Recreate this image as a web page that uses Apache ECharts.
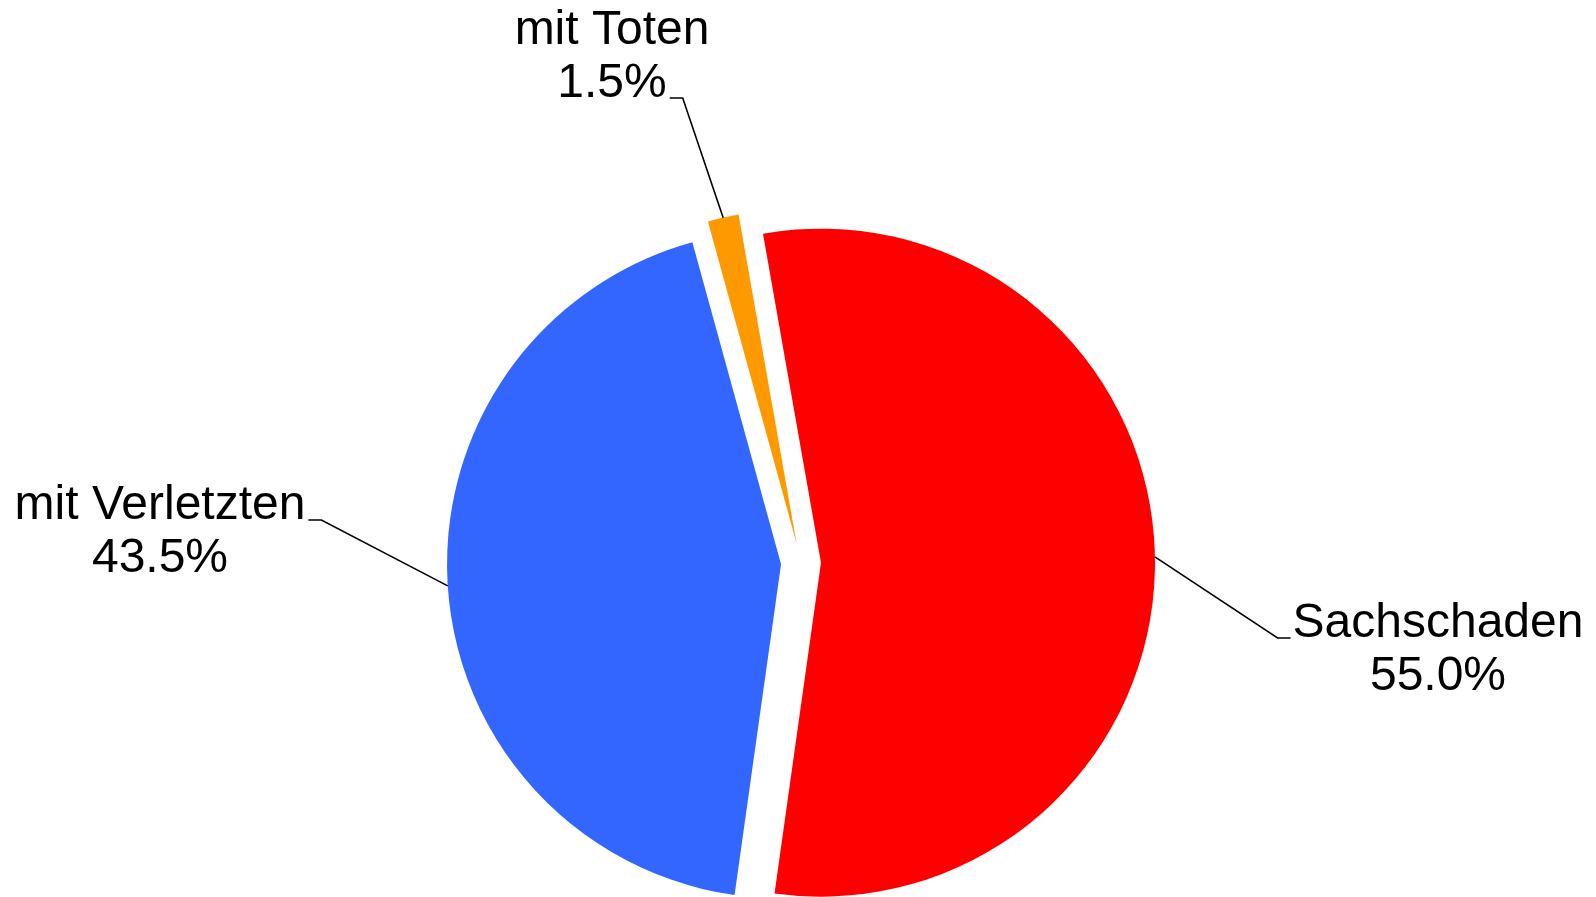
<!DOCTYPE html>
<html><head><meta charset="utf-8">
<script src="https://cdn.jsdelivr.net/npm/echarts@6/dist/echarts.min.js"></script>
<style>html,body{margin:0;padding:0;background:#fff}#main{width:1596px;height:897px}</style>
</head><body><div id="main"></div>
<script>
const categories = ['Sachschaden', 'mit Verletzten', 'mit Toten'];
const shares = [55.0, 43.5, 1.5];
const colors = ['#ff0000', '#3366ff', '#ff9900'];
// label block centres (text placement)
const labelCentres = [[1438, 650], [160, 532], [612, 57]];

const PIE_CENTER = [801, 563];
const PIE_RADIUS = 334;
const EXPLODE = 20;
const FONT_SIZE = 48;
const LINE_H = 53;
const FONT_FAMILY = '"Liberation Sans", Arial, Helvetica, sans-serif';
const mctx = document.createElement('canvas').getContext('2d');
function textW(s) { mctx.font = FONT_SIZE + 'px ' + FONT_FAMILY; return mctx.measureText(s).width; }

const chart = echarts.init(document.getElementById('main'), null, { renderer: 'canvas' });

const common = {
  type: 'pie',
  center: PIE_CENTER,
  radius: [0, PIE_RADIUS],
  startAngle: 100,
  clockwise: true,
  avoidLabelOverlap: false,
  emphasis: { disabled: true },
  itemStyle: { borderWidth: 0 }
};

chart.setOption({
  animation: false,
  backgroundColor: '#ffffff',
  series: [
    Object.assign({}, common, {
      name: 'slices',
      selectedMode: 'multiple',
      selectedOffset: EXPLODE,
      select: { itemStyle: { borderWidth: 0 } },
      label: { show: false },
      labelLine: { show: false },
      data: categories.map((c, i) => ({
        name: c, value: shares[i], selected: true,
        itemStyle: { color: colors[i] }
      }))
    }),
    Object.assign({}, common, {
      name: 'labels',
      silent: true,
      z: 5,
      itemStyle: { color: 'rgba(0,0,0,0)', borderWidth: 0 },
      data: categories.map((c, i) => ({ name: c, value: shares[i] })),
      label: {
        show: true,
        position: 'outside',
        color: '#000',
        fontSize: FONT_SIZE,
        lineHeight: LINE_H,
        fontFamily: FONT_FAMILY,
        align: 'center',
        formatter: p => p.name + '\n' + p.value.toFixed(1) + '%'
      },
      labelLine: {
        show: true, length: 10, length2: 10,
        lineStyle: { color: '#000', width: 1.6 }
      },
      labelLayout: function (p) {
        const i = p.dataIndex;
        const cx = labelCentres[i][0], cy = labelCentres[i][1];
        const lines = String(p.text).split('\n');
        const top = cy - LINE_H * lines.length / 2;
        const bottom = top + LINE_H * lines.length;
        const res = { x: cx, y: cy, align: 'center', verticalAlign: 'middle' };
        const pts = p.labelLinePoints;
        if (pts && pts[0]) {
          const ex = pts[0][0] - PIE_CENTER[0], ey = pts[0][1] - PIE_CENTER[1];
          const d = Math.sqrt(ex * ex + ey * ey) || 1;
          const start = [pts[0][0] + EXPLODE * ex / d, pts[0][1] + EXPLODE * ey / d];
          const k = start[1] > bottom + LINE_H ? lines.length - 1 : 0;
          const w = textW(lines[k]);
          const ay = top + LINE_H * (k + 0.5) + 14.5;
          let end, elbow;
          if (start[0] < cx - w / 2) {
            end = [cx - w / 2 - 2, ay]; elbow = [end[0] - 13, ay];
          } else {
            end = [cx + w / 2 + 3, ay]; elbow = [end[0] + 13, ay];
          }
          res.labelLinePoints = [start, elbow, end];
        }
        return res;
      }
    })
  ]
});
</script></body></html>
